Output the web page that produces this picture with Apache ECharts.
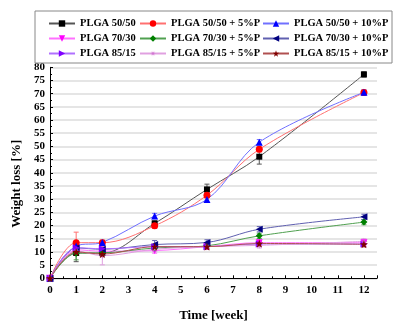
<!DOCTYPE html>
<html>
<head>
<meta charset="utf-8">
<script src="https://cdn.jsdelivr.net/npm/echarts@6/dist/echarts.min.js"></script>
<style>
html,body{margin:0;padding:0;background:#fff;}
#chart{width:413px;height:331px;}
</style>
</head>
<body>
<div id="chart"></div>
<script>
// Data
var weeks = [0, 1, 2, 4, 6, 8, 12];
var seriesNames = [
  'PLGA 50/50', 'PLGA 50/50 + 5%P', 'PLGA 50/50 + 10%P',
  'PLGA 70/30', 'PLGA 70/30 + 5%P', 'PLGA 70/30 + 10%P',
  'PLGA 85/15', 'PLGA 85/15 + 5%P', 'PLGA 85/15 + 10%P'
];
var plga5050    = [0, 9.6, 9.6, 20.8, 33.7, 46.1, 77.3];
var plga5050p5  = [0, 13.5, 13.5, 19.9, 31.5, 48.9, 70.4];
var plga5050p10 = [0, 12.2, 13.6, 23.6, 29.9, 51.6, 70.5];
var plga7030    = [0, 10.8, 10.3, 10.5, 12.0, 13.5, 13.5];
var plga7030p5  = [0, 9.5, 9.6, 11.5, 12.3, 16.1, 21.3];
var plga7030p10 = [0, 11.5, 11.0, 12.8, 13.6, 18.6, 23.3];
var plga8515    = [0, 11.6, 11.2, 12.0, 12.0, 13.0, 13.0];
var plga8515p5  = [0, 10.4, 8.6, 11.0, 12.0, 12.5, 14.0];
var plga8515p10 = [0, 10.0, 9.2, 12.0, 12.0, 13.2, 12.9];

var err5050    = [0, 3.3, 1.0, 1.0, 2.0, 2.8, 1.0];
var err5050p5  = [0, 4.0, 1.0, 1.0, 1.0, 1.0, 1.0];
var err5050p10 = [0, 1.0, 0.8, 1.0, 1.0, 1.0, 1.0];
var err7030    = [0, 1.0, 1.0, 1.0, 1.0, 1.0, 1.0];
var err7030p5  = [0, 2.5, 1.0, 1.0, 1.0, 1.0, 1.0];
var err7030p10 = [0, 1.0, 1.0, 1.5, 1.0, 1.0, 1.0];
var err8515    = [0, 1.0, 1.0, 1.0, 1.0, 1.0, 1.0];
var err8515p5  = [0, 1.0, 3.5, 1.0, 1.0, 1.0, 1.0];
var err8515p10 = [0, 1.0, 1.0, 1.0, 1.0, 1.0, 1.0];

var xTicks = [0,1,2,3,4,5,6,7,8,9,10,11,12];

var values = [plga5050, plga5050p5, plga5050p10, plga7030, plga7030p5, plga7030p10, plga8515, plga8515p5, plga8515p10];
var errors = [err5050, err5050p5, err5050p10, err7030, err7030p5, err7030p10, err8515, err8515p5, err8515p10];

// Styles
function starShape(points, rOuter, rInner) {
  var d = '';
  for (var k = 0; k < points * 2; k++) {
    var r = k % 2 === 0 ? rOuter : rInner;
    var a = Math.PI * k / points - Math.PI / 2;
    d += (k === 0 ? 'M' : 'L') + (r * Math.cos(a)).toFixed(2) + ',' + (r * Math.sin(a)).toFixed(2);
  }
  return 'path://' + d + 'Z';
}
var starPath = starShape(5, 10, 4);
var asteriskPath = starShape(8, 10, 2.2);
var colors = ['#000000', '#ff0000', '#0000ff', '#ff00ff', '#008000', '#000080', '#8000ff', '#d070d0', '#800000'];
var lineColors = ['#555555', '#ff7070', '#7070ff', '#ff70ff', '#50a050', '#6060b0', '#b070ff', '#e0a0e0', '#b05050'];
var symbols = ['rect', 'circle', 'triangle', 'triangle', 'diamond', 'triangle', 'triangle', asteriskPath, starPath];
var rotates = [0, 0, 0, 180, 0, 90, -90, 0, 0];
var sizes = [6, 7, 7, 7, 7, 7, 7, 8, 8];

var series = [];
seriesNames.forEach(function (name, i) {
  series.push({
    name: name,
    type: 'line',
    smooth: 0.35,
    data: weeks.map(function (w, j) { return [w, values[i][j]]; }),
    symbol: symbols[i],
    symbolRotate: rotates[i],
    symbolSize: sizes[i],
    showAllSymbol: true,
    itemStyle: { color: colors[i] },
    lineStyle: { color: lineColors[i], width: 1 },
    z: 3
  });
  series.push({
    type: 'custom',
    name: name + ' err',
    data: weeks.map(function (w, j) { return [w, values[i][j], errors[i][j]]; }),
    renderItem: function (params, api) {
      var x = api.value(0), y = api.value(1), e = api.value(2);
      var top = api.coord([x, y + e]);
      var bot = api.coord([x, y - e]);
      var c = lineColors[i];
      var st = { stroke: c, lineWidth: 1 };
      return {
        type: 'group',
        children: [
          { type: 'line', shape: { x1: top[0], y1: top[1], x2: bot[0], y2: bot[1] }, style: st },
          { type: 'line', shape: { x1: top[0] - 2.5, y1: top[1], x2: top[0] + 2.5, y2: top[1] }, style: st },
          { type: 'line', shape: { x1: bot[0] - 2.5, y1: bot[1], x2: bot[0] + 2.5, y2: bot[1] }, style: st }
        ]
      };
    },
    z: 2,
    silent: true
  });
});

var font = '"Liberation Serif", "DejaVu Serif", serif';
function legendCol(left, names) {
  return {
    orient: 'vertical',
    left: left,
    top: 18,
    padding: 0,
    itemWidth: 26,
    itemHeight: 8,
    itemGap: 4,
    data: names,
    textStyle: { fontFamily: font, fontWeight: 'bold', fontSize: 10.5, color: '#000', lineHeight: 11 }
  };
}

var chart = echarts.init(document.getElementById('chart'), null, { renderer: 'canvas' });
chart.setOption({
  backgroundColor: '#ffffff',
  animation: false,
  legend: [
    legendCol(48, [seriesNames[0], seriesNames[3], seriesNames[6]]),
    legendCol(139, [seriesNames[1], seriesNames[4], seriesNames[7]]),
    legendCol(262, [seriesNames[2], seriesNames[5], seriesNames[8]])
  ],
  graphic: [{
    type: 'rect',
    shape: { x: 35, y: 11, width: 357, height: 52 },
    style: { fill: 'none', stroke: '#888', lineWidth: 1 },
    z: 10
  }],
  grid: { left: 50, top: 67.3, right: 36, bottom: 52.7 },
  xAxis: {
    type: 'value',
    min: 0,
    max: 12.5,
    interval: 1,
    name: 'Time [week]',
    nameLocation: 'middle',
    nameGap: 31,
    nameTextStyle: { fontFamily: font, fontWeight: 'bold', fontSize: 13, color: '#000' },
    axisLine: { lineStyle: { color: '#000', width: 1 } },
    axisTick: { inside: true, length: 3, lineStyle: { color: '#000' } },
    minorTick: { show: true, splitNumber: 2, length: 2, lineStyle: { color: '#000' } },
    splitLine: { show: false },
    axisLabel: {
      margin: 6,
      fontFamily: font, fontWeight: 'bold', fontSize: 11, color: '#000',
      formatter: function (v) { return xTicks.indexOf(v) >= 0 ? String(v) : ''; }
    }
  },
  yAxis: {
    type: 'value',
    min: 0,
    max: 80,
    interval: 5,
    name: 'Weight loss [%]',
    nameLocation: 'middle',
    nameGap: 26,
    nameTextStyle: { fontFamily: font, fontWeight: 'bold', fontSize: 13, color: '#000', padding: [0, 22, 0, 0] },
    axisLine: { show: true, lineStyle: { color: '#000', width: 1 } },
    axisTick: { show: true, inside: true, length: 3, lineStyle: { color: '#000' } },
    minorTick: { show: true, splitNumber: 2, length: 2, lineStyle: { color: '#000' } },
    splitLine: { show: true, lineStyle: { color: '#dcdcdc', width: 1.5 } },
    axisLabel: { margin: 5, fontFamily: font, fontWeight: 'bold', fontSize: 11, color: '#000' }
  },
  series: series
});
</script>
</body>
</html>
